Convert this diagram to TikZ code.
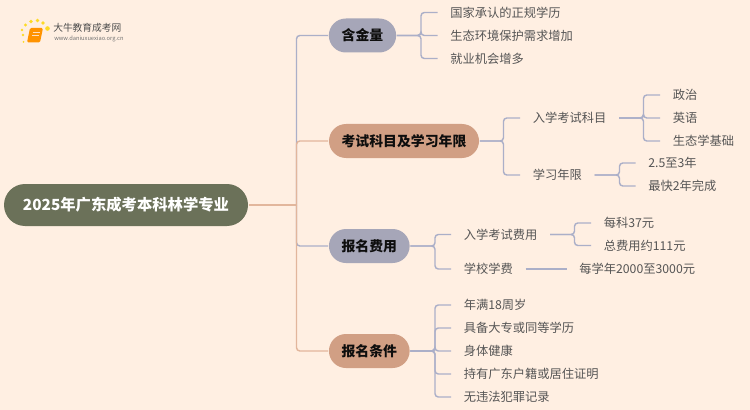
\documentclass[tikz,border=0pt]{standalone}
\usepackage{fontspec}
\setmainfont{Noto Sans CJK SC}
\usetikzlibrary{shapes.misc}
\definecolor{bgc}{HTML}{FFEFE2}
\definecolor{bluel}{HTML}{ABAFC8}
\definecolor{orl}{HTML}{E2B69C}
\definecolor{bluef}{HTML}{A6A6B8}
\definecolor{orf}{HTML}{D19F84}
\definecolor{rootf}{HTML}{6B7159}
\definecolor{txt}{HTML}{555555}
\tikzset{
  px/.style={x=0.75pt,y=-0.75pt},
  pill/.style={rounded rectangle,draw=none,font=\bfseries\fontsize{10.4pt}{12pt}\selectfont,text=black!95,minimum height=25.5pt,inner sep=0pt,outer sep=0.6pt},
  rootpill/.style={pill,fill=rootf,text=white,minimum height=31.5pt,font=\bfseries\fontsize{11.5pt}{13pt}\selectfont},
  leaf/.style={anchor=west,font=\fontsize{9.2pt}{11pt}\selectfont,text=txt,inner xsep=9.4pt,inner ysep=0pt},
  bl/.style={draw=bluel,line width=1.1pt,rounded corners=2.5pt},
  ol/.style={draw=orl,line width=1.1pt,rounded corners=2.5pt},
}
\begin{document}
\begin{tikzpicture}[px]
\useasboundingbox[fill=bgc] (0,0) rectangle (750,410);
% logo
\foreach \a/\b/\r in {23/35/1.3,22/30/1.4,25.5/25/1.7,31/21.5/1.8,37.5/20.5/1.9,43/23/1.9,47.5/28.5/2.3,23.5/42/1}
  \fill[yellow!75!orange,opacity=.85] (\a,\b) circle (\r);
\fill[orange!85!yellow,rounded corners=1pt] (30,28) -- (43,28) -- (40,42.5) -- (27,42.5) -- cycle;
\draw[white!75!orange,line width=.5pt] (32.5,32) -- (39.5,32) (32,35) -- (39,35);
\node[anchor=west,inner sep=0pt,text=black!70,font=\fontsize{7.3pt}{9pt}\selectfont] (logoa) at (53,27.5) {大牛教育成考网};
\node[anchor=west,inner sep=0pt,text=black!55,font=\fontsize{4.3pt}{5pt}\selectfont] (logob) at (54,38.7) {www.daniuxuexiao.org.cn};
% main nodes
\node[rootpill,minimum width=183pt] (root) at (126,205) {2025年广东成考本科林学专业};
\node[pill,fill=bluef,minimum width=50.5pt] (a) at (362.5,35.5) {含金量};
\node[pill,fill=orf,minimum width=112.5pt] (b) at (404,141) {考试科目及学习年限};
\node[pill,fill=bluef,minimum width=60.5pt] (c) at (369.3,246) {报名费用};
\node[pill,fill=orf,minimum width=60.5pt] (d) at (369.3,351) {报名条件};
\coordinate (t) at (296.5,205);
% leaves
\node[leaf] (a1) at (437.5,12.5) {国家承认的正规学历};
\node[leaf] (a2) at (437.5,35.5) {生态环境保护需求增加};
\node[leaf] (a3) at (437.5,58.5) {就业机会增多};
\node[leaf] (b1) at (520,118) {入学考试科目};
\node[leaf] (b2) at (520,175) {学习年限};
\node[leaf] (b11) at (660,95) {政治};
\node[leaf] (b12) at (660,118) {英语};
\node[leaf] (b13) at (660,141) {生态学基础};
\node[leaf] (b21) at (635.5,163) {2.5至3年};
\node[leaf] (b22) at (635.5,186) {最快2年完成};
\node[leaf] (c1) at (451,234.5) {入学考试费用};
\node[leaf] (c2) at (451,269) {学校学费};
\node[leaf] (c11) at (591,223) {每科37元};
\node[leaf] (c12) at (591,245.5) {总费用约111元};
\node[leaf] (c21) at (566.5,269) {每学年2000至3000元};
\node[leaf] (d1) at (451,305) {年满18周岁};
\node[leaf] (d2) at (451,328) {具备大专或同等学历};
\node[leaf] (d3) at (451,351) {身体健康};
\node[leaf] (d4) at (451,374) {持有广东户籍或居住证明};
\node[leaf] (d5) at (451,397) {无违法犯罪记录};
% trunk connectors
\draw[bl] (t) |- (a.west);
\draw[ol] (root.east) -- (t);
\draw[ol] (t) |- (b.west);
\draw[bl] (t) |- (c.west);
\draw[ol] (t) |- (d.west);
% branch connectors
\foreach \p/\c/\sx in {a/a1/421,a/a2/421,a/a3/421,b/b1/503.5,b/b2/503.5,c/c1/435,c/c2/435,d/d1/435,d/d2/435,d/d3/435,d/d4/435,d/d5/435,b1/b11/643.5,b1/b12/643.5,b1/b13/643.5,b2/b21/619.5,b2/b22/619.5,c1/c11/574.5,c1/c12/574.5}
  \draw[bl] (\p.east) -- (\sx,0 |- \p.east) |- (\c.west);
\draw[bl] (c2.east) -- (c21.west);
\end{tikzpicture}
\end{document}
